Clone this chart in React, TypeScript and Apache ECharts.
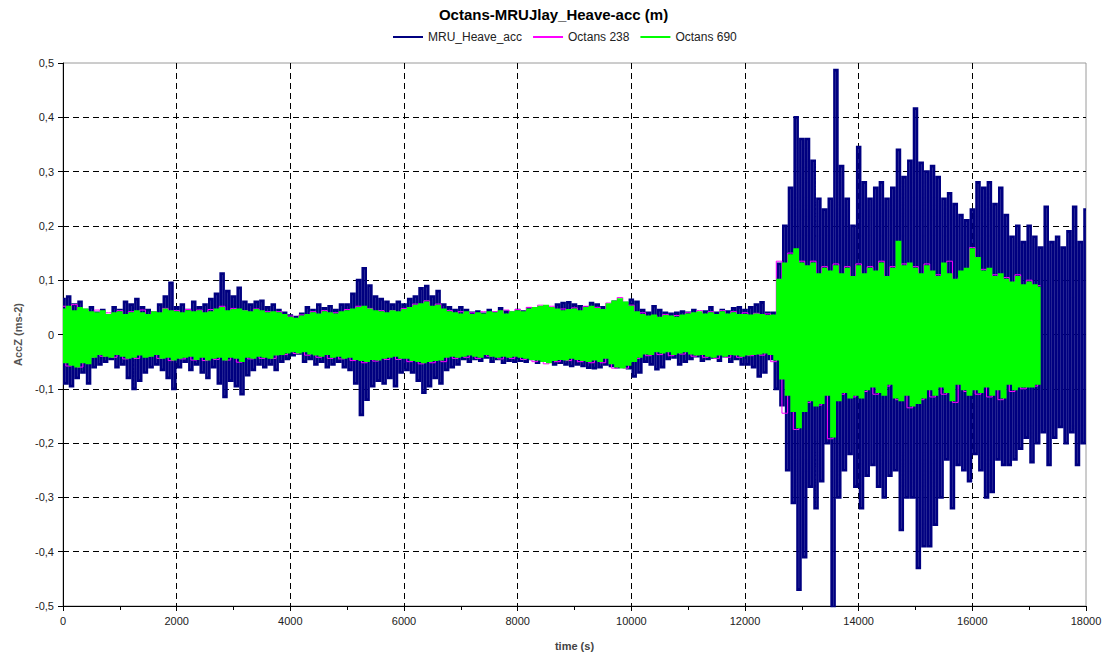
import { useEffect, useRef } from "react";
import * as echarts from "echarts";

const TITLE = "Octans-MRUJlay_Heave-acc (m)";
const SERIES_NAMES = ["MRU_Heave_acc", "Octans 238", "Octans 690"];
const X_NAME = "time (s)";
const Y_NAME = "AccZ (ms-2)";
const X_MIN = 0;
const X_MAX = 18000;
const X_INTERVAL = 2000;
const Y_MIN = -0.5;
const Y_MAX = 0.5;
const Y_INTERVAL = 0.1;

// sample spacing (s) of the values
const MRU_STEP_S = 50;
const OCTANS_690_STEP_S = 50;
const OCTANS_238_STEP_S = 100;

// MRU_Heave_acc peaks, in 0.001 m/s2, one value per 50 s
const MRU_HEAVE_ACC_MILLI = [
  65, -90, 70, -95, 55, -80, 60, -70, 45, -90, 50, -60, 40, -55, 45, -50, 35, -45, 50, -60,
  45, -55, 60, -80, 55, -100, 65, -85, 50, -70, 45, -60, 40, -55, 55, -65, 70, -80, 95, -100,
  50, -60, 55, -50, 45, -65, 60, -55, 50, -70, 55, -80, 65, -60, 75, -90, 112, -115, 80, -85,
  70, -95, 86, -110, 60, -75, 55, -65, 60, -55, 62, -60, 50, -55, 55, -65, 45, -50, 40, -45,
  35, -38, 32, -35, 38, -50, 50, -45, 45, -55, 55, -50, 48, -60, 52, -55, 45, -50, 55, -60,
  55, -65, 75, -90, 100, -148, 122, -120, 90, -95, 70, -85, 65, -90, 60, -80, 55, -95, 60, -70,
  55, -65, 65, -70, 70, -85, 85, -107, 89, -95, 70, -80, 80, -90, 55, -65, 50, -60, 45, -55,
  50, -45, 45, -50, 40, -45, 42, -48, 38, -42, 45, -50, 40, -45, 48, -52, 42, -48, 40, -50,
  45, -48, 42, -50, 48, -45, 45, -52, 50, -48, 52, -50, 48, -55, 55, -52, 58, -55, 59, -58,
  55, -55, 52, -58, 50, -61, 58, -62, 55, -60, 50, -55, 52, -58, 60, -60, 62, -58, 58, -62,
  64, -77, 60, -70, 45, -50, 40, -55, 52, -64, 45, -60, 40, -45, 38, -42, 40, -55, 42, -50,
  40, -45, 45, -40, 38, -48, 42, -45, 50, -42, 40, -48, 45, -40, 42, -50, 48, -45, 50, -55,
  45, -55, 50, -60, 55, -77, 59, -70, 40, -45, 40, -100, 130, -130, 200, -250, 270, -310, 400, -470,
  360, -410, 360, -280, 320, -320, 250, -270, 230, -200, 250, -560, 487, -300, 310, -250, 250, -220, 200, -280,
  345, -320, 280, -260, 250, -240, 270, -280, 280, -300, 250, -260, 270, -250, 340, -360, 290, -300, 320, -300,
  416, -430, 316, -390, 300, -390, 310, -350, 290, -300, 250, -230, 260, -320, 240, -240, 220, -250, 210, -270,
  230, -220, 280, -250, 270, -300, 280, -290, 240, -230, 270, -240, 220, -240, 180, -230, 200, -210, 170, -190,
  200, -235, 180, -200, 160, -180, 235, -240, 170, -190, 180, -170, 160, -200, 190, -180, 235, -240, 170, -200,
  230,
];

// Octans 690 peaks, in 0.001 m/s2, one value per 50 s
const OCTANS_690_MILLI = [
  45, -50, 50, -55, 42, -58, 48, -50, 45, -52, 40, -40, 38, -35, 42, -38, 35, -40, 38, -35,
  40, -38, 35, -42, 38, -40, 42, -36, 38, -40, 35, -38, 40, -35, 38, -42, 45, -40, 42, -45,
  40, -42, 38, -40, 42, -38, 40, -44, 42, -40, 38, -45, 40, -42, 45, -40, 48, -45, 42, -40,
  44, -42, 45, -48, 42, -40, 40, -42, 44, -38, 42, -40, 38, -42, 40, -36, 38, -35, 35, -32,
  30, -30, 28, -32, 32, -30, 35, -34, 38, -36, 36, -38, 40, -35, 38, -40, 36, -38, 40, -42,
  42, -40, 45, -44, 48, -46, 50, -48, 45, -44, 42, -45, 40, -42, 38, -40, 42, -38, 40, -42,
  44, -42, 48, -46, 52, -48, 55, -50, 58, -48, 50, -46, 52, -45, 45, -40, 40, -38, 38, -40,
  36, -38, 40, -36, 35, -38, 38, -40, 36, -35, 40, -38, 38, -40, 42, -38, 36, -40, 40, -38,
  42, -40, 40, -42, 45, -44, 48, -45, 50, -48, 52, -50, 48, -46, 45, -44, 42, -45, 44, -42,
  45, -44, 42, -46, 48, -48, 50, -45, 46, -48, 44, -42, 55, -52, 60, -58, 64, -60, 58, -55,
  50, -48, 40, -40, 35, -34, 32, -35, 34, -30, 30, -32, 33, -30, 32, -35, 30, -32, 34, -30,
  36, -34, 38, -36, 40, -35, 36, -38, 38, -40, 35, -36, 40, -38, 36, -35, 38, -36, 35, -38,
  35, -36, 34, -35, 36, -34, 35, -32, 33, -35, 34, -45, 100, -80, 130, -110, 145, -140, 156, -170,
  130, -140, 125, -120, 130, -130, 110, -125, 120, -110, 115, -187, 125, -120, 110, -105, 120, -115, 105, -110,
  125, -115, 110, -100, 120, -95, 115, -105, 130, -110, 105, -90, 120, -115, 170, -120, 125, -110, 130, -130,
  120, -125, 110, -115, 125, -100, 115, -110, 105, -95, 130, -105, 110, -120, 100, -90, 115, -100, 120, -110,
  156, -100, 140, -105, 115, -95, 120, -110, 105, -100, 110, -115, 100, -90, 95, -100, 105, -95, 90, -95,
  95, -95, 90, -90, 85,
];

// Octans 238 peaks, in 0.001 m/s2, one value per 100 s
const OCTANS_238_MILLI = [
  52, -58, 55, -60, 45, -42, 45, -40, 40, -42,
  44, -45, 42, -44, 45, -40, 42, -44, 48, -48,
  44, -45, 46, -47, 45, -48, 46, -46, 52, -47,
  48, -51, 44, -45, 47, -44, 42, -44, 42, -37,
  34, -35, 36, -38, 42, -42, 44, -44, 40, -45,
  46, -48, 52, -52, 48, -49, 44, -46, 44, -46,
  48, -50, 56, -54, 62, -52, 56, -50, 44, -44,
  42, -42, 40, -44, 42, -40, 42, -45, 45, -44,
  46, -46, 50, -50, 54, -54, 52, -50, 47, -48,
  49, -50, 52, -52, 50, -52, 58, -62, 68, -62,
  54, -44, 40, -39, 35, -37, 37, -39, 35, -36,
  40, -40, 44, -42, 42, -44, 44, -42, 42, -42,
  40, -39, 39, -38, 38, -50, 135, -145, 150, -175,
  135, -125, 135, -130, 125, -192, 130, -110, 125, -115,
  130, -105, 125, -110, 135, -95, 125, -120, 130, -135,
  125, -120, 130, -115, 110, -110, 135, -125, 105, -105,
  160, -110, 120, -115, 110, -120, 105, -105, 110, -100,
  100, -95, 90,
];

const COLORS = ["#000080", "#ff00ff", "#00ff00"];
const FONT = "'Liberation Sans', Arial, sans-serif";

const toPairs = (vals: number[], step: number) =>
  vals.map((v, i) => [i * step, v / 1000]);

export default function App() {
  const ref = useRef<HTMLDivElement>(null);

  useEffect(() => {
    const chart = echarts.init(ref.current!, null, { renderer: "svg" });
    const lineSeries = (name: string, data: number[][], color: string, width: number) => ({
      name,
      type: "line",
      data,
      step: "middle",
      symbol: "none",
      showSymbol: false,
      silent: true,
      emphasis: { disabled: true },
      lineStyle: { color, width, join: "miter" },
      itemStyle: { color },
    });
    chart.setOption({
      animation: false,
      backgroundColor: "#ffffff",
      textStyle: { fontFamily: FONT },
      title: {
        text: TITLE,
        left: "center",
        top: 7,
        padding: 0,
        textStyle: { fontSize: 15, fontWeight: "bold", color: "#000", fontFamily: FONT },
      },
      legend: {
        data: SERIES_NAMES,
        top: 31,
        left: 393,
        padding: 0,
        icon: "rect",
        itemWidth: 30,
        itemHeight: 2,
        itemGap: 11,
        textStyle: { fontSize: 12, color: "#222", fontFamily: FONT },
      },
      grid: {
        left: 63,
        right: 21,
        top: 63,
        bottom: 49,
        show: true,
        borderColor: "#9a9a9a",
        borderWidth: 1,
      },
      xAxis: {
        type: "value",
        min: X_MIN,
        max: X_MAX,
        interval: X_INTERVAL,
        name: X_NAME,
        nameLocation: "middle",
        nameGap: 34,
        nameTextStyle: { fontSize: 11, fontWeight: "bold", color: "#444", fontFamily: FONT },
        axisLine: { onZero: false, lineStyle: { color: "#000", width: 1 } },
        axisTick: { show: true, length: 5, lineStyle: { color: "#000" } },
        minorTick: { show: true, splitNumber: 2, length: 4, lineStyle: { color: "#000" } },
        axisLabel: { fontSize: 11, color: "#222", margin: 9, formatter: (v: number) => String(v) },
        splitLine: {
          show: true,
          showMinLine: false,
          showMaxLine: false,
          lineStyle: { color: "#000", type: [6, 4], width: 1 },
        },
      },
      yAxis: {
        type: "value",
        min: Y_MIN,
        max: Y_MAX,
        interval: Y_INTERVAL,
        name: Y_NAME,
        nameLocation: "middle",
        nameRotate: 90,
        nameGap: 40,
        nameTextStyle: { fontSize: 11, fontWeight: "bold", color: "#555", fontFamily: FONT },
        axisLine: { show: true, onZero: false, lineStyle: { color: "#000", width: 1 } },
        axisTick: { show: true, length: 5, lineStyle: { color: "#000" } },
        axisLabel: {
          fontSize: 11,
          color: "#222",
          margin: 9,
          formatter: (v: number) => Number(v.toFixed(1)).toString().replace(".", ","),
        },
        splitLine: {
          show: true,
          showMinLine: false,
          showMaxLine: false,
          lineStyle: { color: "#000", type: [6, 4], width: 1 },
        },
      },
      series: [
        lineSeries(SERIES_NAMES[0], toPairs(MRU_HEAVE_ACC_MILLI, MRU_STEP_S), COLORS[0], 2.7),
        lineSeries(SERIES_NAMES[1], toPairs(OCTANS_238_MILLI, OCTANS_238_STEP_S), COLORS[1], 1),
        lineSeries(SERIES_NAMES[2], toPairs(OCTANS_690_MILLI, OCTANS_690_STEP_S), COLORS[2], 3),
      ],
    });
    return () => chart.dispose();
  }, []);

  return (
    <div
      ref={ref}
      style={{ position: "fixed", left: 0, top: 0, width: 1107, height: 656 }}
    />
  );
}
